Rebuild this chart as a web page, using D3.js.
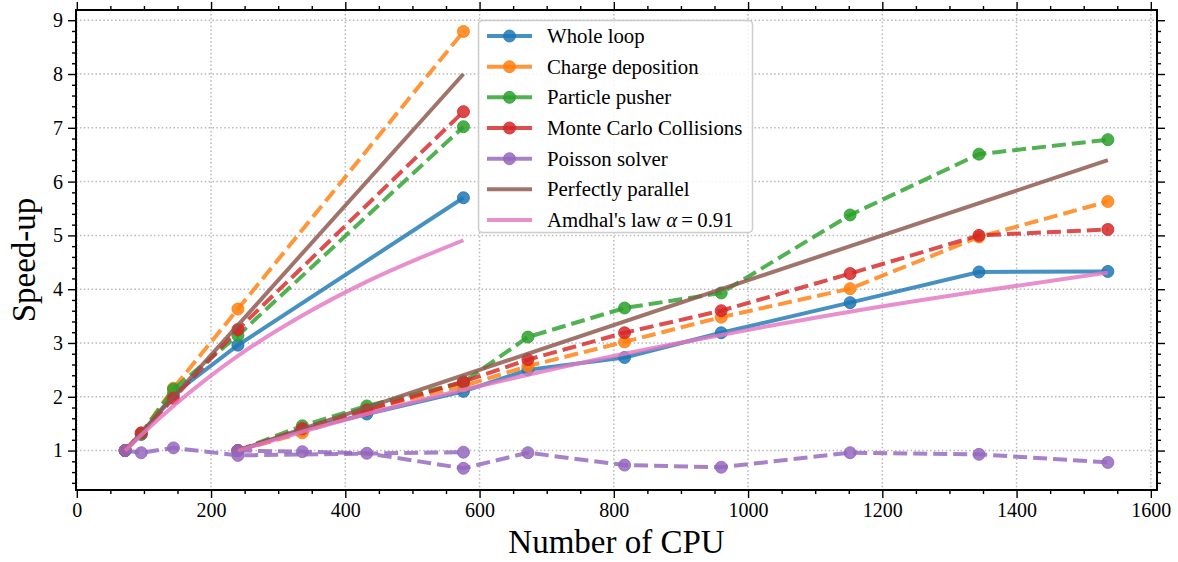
<!DOCTYPE html>
<html>
  <head>
    <meta charset="UTF-8" />
    <script src="https://cdnjs.cloudflare.com/ajax/libs/d3/7.8.5/d3.min.js"></script>
    <style>
      body { margin: 0; background: #fff; }
      svg { font-family: "Liberation Serif", "DejaVu Serif", serif; }
      .grid line { stroke: #b8b8b8; stroke-width: 1.5; stroke-dasharray: 1.5 2.4; }
      .axis { font-family: "Liberation Serif", "DejaVu Serif", serif; }
      .axis path { stroke: #000; stroke-width: 2; }
      .axis line { stroke: #000; stroke-width: 1.4; }
      .axis text { font-size: 20px; fill: #000; }
      path.series { fill: none; stroke-width: 4; stroke-opacity: 0.82; }
      circle.pt { stroke-width: 1; fill-opacity: 0.85; stroke-opacity: 0.85; }
      .legend text { font-size: 20.8px; }
    </style>
  </head>
  <body>
    <svg width="1178" height="562"></svg>
    <script>
      // CPU counts for the two runs
      var cpuA = [72, 96, 144, 240, 576];
      var cpuB = [240, 336, 432, 576, 672, 816, 960, 1152, 1344, 1536];

      // speed-up, first run
      var wholeA = [1, 1.30, 2.05, 2.96, 5.70];
      var chargeA = [1, 1.32, 2.16, 3.63, 8.79];
      var pusherA = [1, 1.31, 2.14, 3.14, 7.02];
      var mccA = [1, 1.33, 1.97, 3.25, 7.30];
      var poissonA = [1, 0.96, 1.05, 0.91, 0.97];

      // speed-up, second run
      var wholeB = [1, 1.38, 1.68, 2.10, 2.50, 2.73, 3.19, 3.75, 4.32, 4.33];
      var chargeB = [1, 1.33, 1.77, 2.20, 2.57, 3.02, 3.48, 4.01, 4.97, 5.63];
      var pusherB = [1, 1.46, 1.83, 2.27, 3.11, 3.65, 3.93, 5.38, 6.51, 6.78];
      var mccB = [1, 1.41, 1.75, 2.28, 2.69, 3.19, 3.60, 4.29, 5.00, 5.11];
      var poissonB = [1, 0.98, 0.95, 0.67, 0.96, 0.73, 0.69, 0.96, 0.93, 0.78];

      // reference curves
      var idealCpuA = [72, 576];
      var idealA = [1, 8];
      var idealCpuB = [240, 1536];
      var idealB = [1, 6.4];
      var amdahlCpuA = [72, 96, 144, 192, 240, 336, 432, 576];
      var amdahlA = [1, 1.29, 1.83, 2.32, 2.76, 3.51, 4.14, 4.91];
      var amdahlCpuB = cpuB;
      var amdahlB = [1, 1.35, 1.68, 2.13, 2.41, 2.80, 3.15, 3.58, 3.96, 4.31];

      var xTicks = [0, 200, 400, 600, 800, 1000, 1200, 1400, 1600];
      var yTicks = [1, 2, 3, 4, 5, 6, 7, 8, 9];

      var series = [
        { name: "Whole loop", color: "#1f77b4", dash: null, a: wholeA, b: wholeB },
        { name: "Charge deposition", color: "#ff7f0e", dash: "14 6", a: chargeA, b: chargeB },
        { name: "Particle pusher", color: "#2ca02c", dash: "14 6", a: pusherA, b: pusherB },
        { name: "Monte Carlo Collisions", color: "#d62728", dash: "14 6", a: mccA, b: mccB },
        { name: "Poisson solver", color: "#9467bd", dash: "14 6", a: poissonA, b: poissonB }
      ];

      var margin = { left: 76, right: 21, top: 10, bottom: 72 };
      var width = 1178 - margin.left - margin.right;
      var height = 562 - margin.top - margin.bottom;

      var svg = d3.select("svg");
      var g = svg.append("g").attr("transform", "translate(" + margin.left + "," + margin.top + ")");

      var x = d3.scaleLinear().domain([-1.2, 1609.2]).range([0, width]);
      var y = d3.scaleLinear().domain([0.267, 9.19]).range([height, 0]);

      // grid
      g.append("g").attr("class", "grid")
        .selectAll("line").data(xTicks).enter().append("line")
        .attr("x1", d => x(d)).attr("x2", d => x(d))
        .attr("y1", 0).attr("y2", height);
      g.append("g").attr("class", "grid")
        .selectAll("line").data(yTicks).enter().append("line")
        .attr("y1", d => y(d)).attr("y2", d => y(d))
        .attr("x1", 0).attr("x2", width);

      var line = d3.line().x(d => x(d[0])).y(d => y(d[1]));
      var smooth = d3.line().x(d => x(d[0])).y(d => y(d[1])).curve(d3.curveMonotoneX);

      function drawSeries(s, cpus, vals) {
        var pts = cpus.map((c, i) => [c, vals[i]]);
        g.append("path")
          .attr("class", "series")
          .attr("d", line(pts))
          .style("stroke", s.color)
          .style("stroke-dasharray", s.dash);
        g.append("g").selectAll("circle").data(pts).enter().append("circle")
          .attr("class", "pt")
          .attr("r", 6)
          .attr("cx", d => x(d[0]))
          .attr("cy", d => y(d[1]))
          .style("fill", s.color)
          .style("stroke", s.color);
      }

      series.forEach(s => {
        drawSeries(s, cpuA, s.a);
        drawSeries(s, cpuB, s.b);
      });

      [[idealCpuA, idealA], [idealCpuB, idealB]].forEach(p => {
        g.append("path").attr("class", "series")
          .attr("d", line(p[0].map((c, i) => [c, p[1][i]])))
          .style("stroke", "#8c564b");
      });
      [[amdahlCpuA, amdahlA], [amdahlCpuB, amdahlB]].forEach(p => {
        g.append("path").attr("class", "series")
          .attr("d", smooth(p[0].map((c, i) => [c, p[1][i]])))
          .style("stroke", "#e377c2");
      });

      // axes, ticks pointing outward on all four sides
      var xMinor = d3.range(0, 1601, 50).filter(d => d % 200 != 0);
      var yMinor = d3.range(0.4, 9.19, 0.2).filter(d => Math.abs(d - Math.round(d)) > 0.01);

      function addAxis(axisFn, scale, major, minor, labels, transform) {
        var ax = g.append("g").attr("class", "axis").attr("transform", transform);
        ax.call(axisFn(scale).tickValues(minor).tickSize(4).tickSizeOuter(0).tickFormat(""));
        ax.selectAll("path").remove();
        var ax2 = g.append("g").attr("class", "axis").attr("transform", transform);
        ax2.call(axisFn(scale).tickValues(major).tickSize(8).tickSizeOuter(0)
          .tickPadding(5).tickFormat(labels ? d3.format("d") : ""));
        ax2.select("path").remove();
        ax2.attr("font-family", null);
      }
      addAxis(d3.axisBottom, x, xTicks, xMinor, true, "translate(0," + height + ")");
      addAxis(d3.axisTop, x, xTicks, xMinor, false, "translate(0,0)");
      addAxis(d3.axisLeft, y, yTicks, yMinor, true, "translate(0,0)");
      addAxis(d3.axisRight, y, yTicks, yMinor, false, "translate(" + width + ",0)");

      g.append("rect")
        .attr("x", 0).attr("y", 0).attr("width", width).attr("height", height)
        .style("fill", "none").style("stroke", "#000").style("stroke-width", 2);

      // axis titles
      svg.append("text")
        .attr("x", margin.left + width / 2).attr("y", 553)
        .attr("text-anchor", "middle")
        .style("font-size", "33px")
        .text("Number of CPU");
      svg.append("text")
        .attr("transform", "translate(35," + (margin.top + height / 2 + 10) + ") rotate(-90)")
        .attr("text-anchor", "middle")
        .style("font-size", "33px")
        .text("Speed-up");

      // legend
      var legendItems = series.map(s => ({ name: s.name, color: s.color, marker: true }))
        .concat([
          { name: "Perfectly parallel", color: "#8c564b", marker: false },
          { name: "Amdhal's law", color: "#e377c2", marker: false, alpha: true }
        ]);

      var legend = svg.append("g").attr("class", "legend");
      legend.append("rect")
        .attr("x", 478.5).attr("y", 20.5).attr("width", 274).attr("height", 212)
        .attr("rx", 4)
        .style("fill", "#fff").style("fill-opacity", 0.85)
        .style("stroke", "#cccccc").style("stroke-width", 1.5);

      var rows = legend.selectAll("g.row").data(legendItems).enter().append("g")
        .attr("class", "row")
        .attr("transform", (d, i) => "translate(0," + (36 + i * 30.67) + ")");
      rows.append("line")
        .attr("x1", 487).attr("x2", 532).attr("y1", 0).attr("y2", 0)
        .style("stroke", d => d.color).style("stroke-width", 4).style("stroke-opacity", 0.82);
      rows.filter(d => d.marker).append("circle")
        .attr("cx", 509.5).attr("cy", 0).attr("r", 6)
        .style("fill", d => d.color).style("fill-opacity", 0.85)
        .style("stroke", d => d.color).style("stroke-opacity", 0.85);
      var texts = rows.append("text")
        .attr("x", 547).attr("y", 7)
        .text(d => d.name);
      texts.filter(d => d.alpha).append("tspan").text(" ");
      texts.filter(d => d.alpha).append("tspan").style("font-style", "italic").text("\u03b1");
      texts.filter(d => d.alpha).append("tspan").text("\u2009=\u20090.91");
    </script>
  </body>
</html>
